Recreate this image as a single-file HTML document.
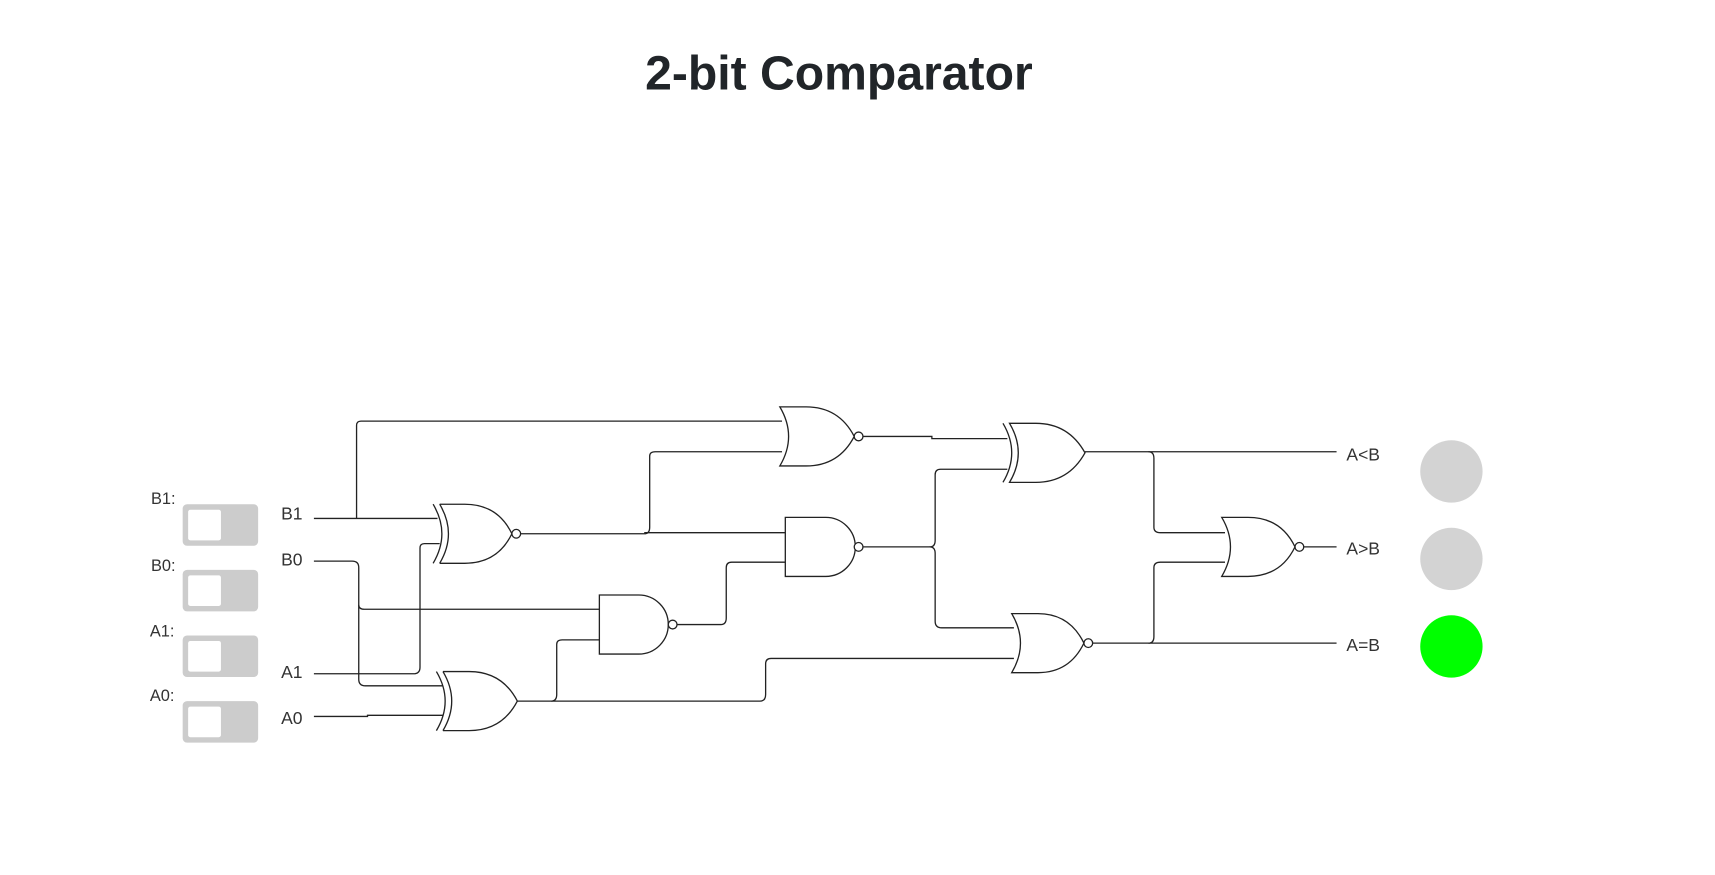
<!DOCTYPE html>
<html><head><meta charset="utf-8"><style>
html,body{margin:0;padding:0;background:#fff;}
svg{display:block;}
</style></head><body>
<svg width="1715" height="875" viewBox="0 0 1568 800" preserveAspectRatio="none" xmlns="http://www.w3.org/2000/svg">
<text x="767" y="82" text-anchor="middle" font-family="Liberation Sans, sans-serif" font-weight="bold" font-size="44" fill="#212529">2-bit Comparator</text>

<g font-family="Liberation Sans, sans-serif" font-size="15" fill="#333">
<text x="138" y="461">B1:</text>
<text x="138" y="522">B0:</text>
<text x="137" y="582">A1:</text>
<text x="137" y="641">A0:</text>
</g>
<g fill="#cccccc">
<rect x="167" y="461" width="69" height="38" rx="4"/>
<rect x="167" y="521" width="69" height="38" rx="4"/>
<rect x="167" y="581" width="69" height="38" rx="4"/>
<rect x="167" y="641" width="69" height="38" rx="4"/>
</g>
<g fill="#fff">
<rect x="172" y="466" width="30" height="28" rx="2"/>
<rect x="172" y="526" width="30" height="28" rx="2"/>
<rect x="172" y="586" width="30" height="28" rx="2"/>
<rect x="172" y="646" width="30" height="28" rx="2"/>
</g>

<g font-family="Liberation Sans, sans-serif" font-size="16" fill="#333">
<text x="257" y="475">B1</text>
<text x="257" y="517">B0</text>
<text x="257" y="620">A1</text>
<text x="257" y="662">A0</text>
<text x="1231" y="421">A&lt;B</text>
<text x="1231" y="507">A&gt;B</text>
<text x="1231" y="595">A=B</text>
</g>

<g fill="none" stroke="#222" stroke-width="1.2">
<path d="M287,474 H400"/>
<path d="M326,474 V389 Q326,385 330,385 H715"/>
<path d="M287,513 H322 Q328,513 328,519 V553 Q328,557 333,557 H548"/>
<path d="M328,553 V621 Q328,627 334,627 H405"/>
<path d="M287,616 H378 Q384,616 384,610 V501 Q384,497 388,497 H402"/>
<path d="M287,655 H336 V654 H405"/>
<path d="M476,488 H589 Q594,488 594,482 V417 Q594,413 599,413 H715"/>
<path d="M589,487 H718"/>
<path d="M473,641 H504 Q509,641 509,635 V589 Q509,585 514,585 H548"/>
<path d="M504,641 H695 Q700,641 700,635 V607 Q700,602 705,602 H927"/>
<path d="M619,571 H659 Q664,571 664,565 V519 Q664,514 669,514 H718"/>
<path d="M789,399 H852 V401 H921"/>
<path d="M789,500 H850 Q855,500 855,494 V434 Q855,429 860,429 H921"/>
<path d="M850,500 Q855,500 855,506 V568 Q855,574 861,574 H927"/>
<path d="M992,413 H1222"/>
<path d="M1050,413 Q1055,413 1055,419 V482 Q1055,487 1061,487 H1120"/>
<path d="M999,588 H1222"/>
<path d="M1050,588 Q1055,588 1055,582 V519 Q1055,514 1061,514 H1120"/>
<path d="M1192,500 H1222"/>

<path d="M402,461 Q418,488 402,515"/>
<path d="M402,461 L425,461 Q455,461 468,488 Q455,515 425,515 L402,515"/>
<path d="M396,461 Q412,488 396,515"/>
<circle cx="472" cy="488" r="4" fill="#fff"/>
<path d="M405,614 Q421,641 405,668"/>
<path d="M405,614 L429,614 Q459,614 473,641 Q459,668 429,668 L405,668"/>
<path d="M399,614 Q415,641 399,668"/>
<path d="M548,544 H584 A27,27 0 0 1 584,598 H548 Z" fill="#fff"/>
<circle cx="615" cy="571" r="4" fill="#fff"/>
<path d="M713,372 Q729,399 713,426 L737,426 Q767,426 781,399 Q767,372 737,372 Z" fill="#fff"/>
<circle cx="785" cy="399" r="4" fill="#fff"/>
<path d="M718,473 H755 A27,27 0 0 1 755,527 H718 Z" fill="#fff"/>
<circle cx="785" cy="500" r="4" fill="#fff"/>
<path d="M923,387 Q939,414 923,441 L947,441 Q977,441 992,414 Q977,387 947,387 Z" fill="#fff"/>
<path d="M917,387 Q933,414 917,441"/>
<path d="M925,561 Q941,588 925,615 L949,615 Q978,615 991,588 Q978,561 949,561 Z" fill="#fff"/>
<circle cx="995" cy="588" r="4" fill="#fff"/>
<path d="M1117,473 Q1133,500 1117,527 L1141,527 Q1171,527 1184,500 Q1171,473 1141,473 Z" fill="#fff"/>
<circle cx="1188" cy="500" r="4" fill="#fff"/>
</g>

<circle cx="1327" cy="431" r="28.5" fill="#d3d3d3"/>
<circle cx="1327" cy="511" r="28.5" fill="#d3d3d3"/>
<circle cx="1327" cy="591" r="28.5" fill="#00ff00"/>
</svg>
</body></html>
